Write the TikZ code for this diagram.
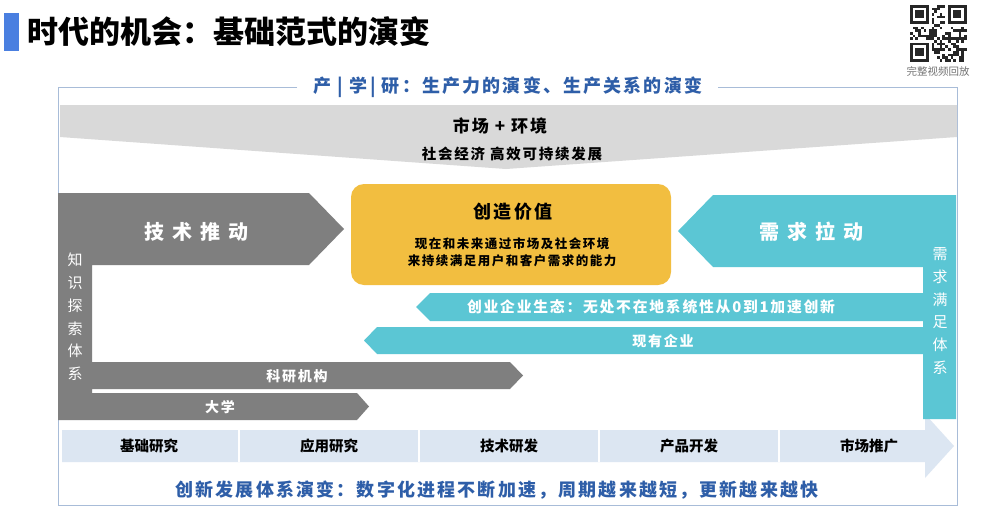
\documentclass[tikz,border=0pt]{standalone}
\usepackage{fontspec}
\setmainfont{Noto Sans CJK SC}
\newfontfamily\kai[LetterSpace=12]{Noto Sans CJK SC}
\newfontfamily\kaiwide[LetterSpace=40]{Noto Sans CJK SC}
\definecolor{titleblue}{HTML}{4A7FE0}
\definecolor{headblue}{HTML}{2E5EA8}
\definecolor{framecol}{HTML}{A8BCD8}
\definecolor{bannergray}{HTML}{D9D9D9}
\definecolor{pushgray}{HTML}{7F7F7F}
\definecolor{pullcyan}{HTML}{5BC6D4}
\definecolor{valueorange}{HTML}{F2BE40}
\definecolor{stageblue}{HTML}{DCE6F2}
\begin{document}
\begin{tikzpicture}[x=1pt,y=-1pt,
  txt/.style={inner sep=0pt, font=\kai\bfseries\fontsize{#1}{#1}\selectfont},
  txt/.default=14,
  whitetxt/.style={txt=#1, text=white},
  whitetxt/.default=14,
  bigtxt/.style={inner sep=0pt, text=white, font=\kaiwide\bfseries\fontsize{20}{20}\selectfont},
  vertxt/.style={inner sep=0pt, text=white, align=center, font=\kai\fontsize{15}{22.8}\selectfont},
  stagelbl/.style={inner sep=0pt, font=\bfseries\fontsize{14.5}{14.5}\selectfont}]
\useasboundingbox (0,0) rectangle (1000,519);
\fill[white] (0,0) rectangle (1000,519);
\fill[titleblue] (4,13) rectangle (19,51);
\node[anchor=west, inner sep=0pt, font=\bfseries\fontsize{31}{31}\selectfont] (title) at (27,32) {时代的机会：基础范式的演变};
\pgfmathsetseed{7}
\pgfmathsetmacro\qm{2.7}
\foreach \i in {0,...,20}{\foreach \j in {0,...,20}{\pgfmathtruncatemacro\on{rnd<0.45}\ifnum\on=1 \fill[black!85] (910+\qm*\i,5+\qm*\j) rectangle ++(\qm,\qm);\fi}}
\foreach \cx/\cy/\wx/\wy in {0/0/0/0,14/0/13/0,0/14/0/13}{
  \fill[white] (910+\qm*\wx,5+\qm*\wy) rectangle ++(8*\qm,8*\qm);
  \fill[black!85] (910+\qm*\cx,5+\qm*\cy) rectangle ++(7*\qm,7*\qm);
  \fill[white] (910+\qm*\cx+\qm,5+\qm*\cy+\qm) rectangle ++(5*\qm,5*\qm);
  \fill[black!85] (910+\qm*\cx+2*\qm,5+\qm*\cy+2*\qm) rectangle ++(3*\qm,3*\qm);}
\node[inner sep=0pt, text=black!55, font=\fontsize{10.5}{10.5}\selectfont] (replay) at (938,71) {完整视频回放};
\draw[framecol, line width=0.8] (297,87) -- (58,87) -- (58,505) -- (957,505) -- (957,87) -- (718,87);
\node[txt=18, text=headblue] (heading) at (508,87) {产 | 学| 研：生产力的演变、生产关系的演变};
\fill[bannergray] (60,105) -- (957,105) -- (957,137) -- (506,169) -- (60,137) -- cycle;
\node[txt=17] (market) at (500,126) {市场 + 环境};
\node[txt=14.5] (society) at (512,154) {社会经济 高效可持续发展};
\fill[stageblue] (62,430) -- (925,430) -- (925,414) -- (954,446) -- (925,478) -- (925,462) -- (62,462) -- cycle;
\foreach \i in {1,...,4} \draw[white, line width=1.5] (59+180*\i,430) -- (59+180*\i,462);
\foreach \s [count=\i] in {基础研究,应用研究,技术研发,产品开发,市场推广} \node[stagelbl] (stage\i) at (59+180*\i-90,446) {\s};
\fill[pushgray] (58,193) -- (309,193) -- (344,229) -- (309,265) -- (92,265) -- (92,362) -- (510,362) -- (523,375.5) -- (510,389) -- (92,389) -- (92,393) -- (357,393) -- (369,406.5) -- (357,420) -- (58,420) -- cycle;
\node[vertxt] (knowledge) at (75,317) {知\\识\\探\\索\\体\\系};
\node[bigtxt] (push) at (196,232) {技术推动};
\node[whitetxt] (institute) at (297,376) {科研机构};
\node[whitetxt] (university) at (220,407) {大学};
\fill[pullcyan] (956,195) -- (713,195) -- (678,231) -- (713,267) -- (923,267) -- (923,293) -- (430,293) -- (416,307) -- (430,321) -- (923,321) -- (923,327) -- (377,327) -- (364,340.5) -- (377,354) -- (923,354) -- (923,419) -- (956,419) -- cycle;
\node[vertxt] (demand) at (940,311) {需\\求\\满\\足\\体\\系};
\node[bigtxt] (pull) at (811,232) {需求拉动};
\node[whitetxt=14.8] (startup) at (651,307) {创业企业生态：无处不在地系统性从0到1加速创新};
\node[whitetxt] (incumbent) at (663,341) {现有企业};
\fill[valueorange, rounded corners=13] (351,184) rectangle (671,285);
\node[txt=18] (value) at (513,212) {创造价值};
\node[txt=12.5] (valueline1) at (512,244) {现在和未来通过市场及社会环境};
\node[txt=12.5] (valueline2) at (512,261) {来持续满足用户和客户需求的能力};
\node[txt=18, text=headblue] (evolution) at (497,490) {创新发展体系演变：数字化进程不断加速，周期越来越短，更新越来越快};
\end{tikzpicture}
\end{document}
